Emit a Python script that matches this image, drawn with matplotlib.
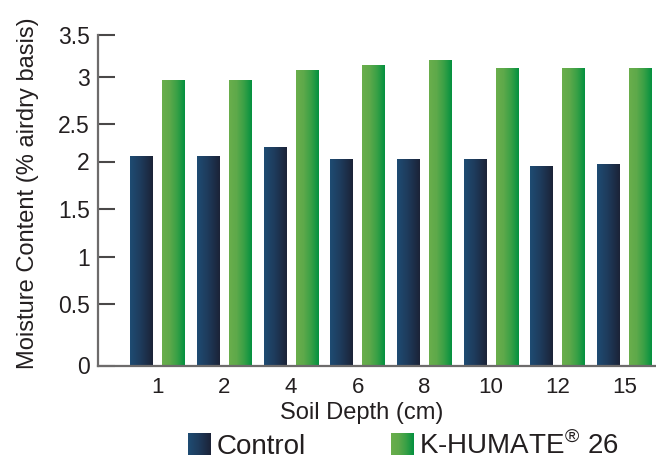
import numpy as np
import matplotlib
matplotlib.use("Agg")
import matplotlib.pyplot as plt
from matplotlib.colors import LinearSegmentedColormap
from matplotlib.patches import Rectangle
from matplotlib.image import BboxImage
from matplotlib.transforms import Bbox, TransformedBbox

# ---- data ----
depths = ["1", "2", "4", "6", "8", "10", "12", "15"]
control = [2.06, 2.06, 2.18, 2.02, 2.02, 2.02, 1.94, 1.96]
khumate = [2.95, 2.95, 3.07, 3.13, 3.19, 3.09, 3.09, 3.09]
yticks = [0, 0.5, 1, 1.5, 2, 2.5, 3, 3.5]
ytick_labels = ["0", "0.5", "1", "1.5", "2", "2.5", "3", "3.5"]
series_names = ["Control", "K-HUMATE$^{\\mathrm{\u00ae}}$ 26"]

# the printed axis is not evenly spaced; reproduce its spacing (pixel heights of each tick)
tick_heights = np.array([0, 61.5, 108.5, 156.5, 204, 241.5, 289, 330.8])
tick_vals = np.array(yticks, dtype=float)

def _pw(x, xs, ys):
    x = np.asarray(x, dtype=float)
    out = np.interp(x, xs, ys)
    lo = x < xs[0]
    hi = x > xs[-1]
    s0 = (ys[1] - ys[0]) / (xs[1] - xs[0])
    s1 = (ys[-1] - ys[-2]) / (xs[-1] - xs[-2])
    out = np.where(lo, ys[0] + (x - xs[0]) * s0, out)
    out = np.where(hi, ys[-1] + (x - xs[-1]) * s1, out)
    return out

def fwd(v):
    return _pw(v, tick_vals, tick_heights)

def inv(p):
    return _pw(p, tick_heights, tick_vals)

plt.rcParams['font.family'] = ['Liberation Sans', 'DejaVu Sans']
plt.rcParams['mathtext.fontset'] = 'custom'
plt.rcParams['mathtext.rm'] = 'Liberation Sans'
text_color = "#231f20"

cmap_ctrl = LinearSegmentedColormap.from_list("ctrl", ["#1f4c73", "#1e3a5a", "#1b2337"])
cmap_kh = LinearSegmentedColormap.from_list("kh", ["#6aae4c", "#5ea94a", "#37a046", "#03913f"])

fig = plt.figure(figsize=(6.56, 4.62), dpi=100)
ax = fig.add_axes([98.3 / 656, 96.5 / 462, (656 - 98.3) / 656, (365.5 - 34.7) / 462])
ax.set_yscale('function', functions=(fwd, inv))

x = np.arange(len(depths))
w = 0.337
off = 0.24
b1 = ax.bar(x - off, control, width=w, color="#1e3a5a", zorder=2)
b2 = ax.bar(x + off, khumate, width=w, color="#4ea648", zorder=2)

grad = np.linspace(0, 1, 256).reshape(1, -1)
for bars, cmap in ((b1, cmap_ctrl), (b2, cmap_kh)):
    for r in bars:
        r.set_facecolor("none")
        r.set_edgecolor("none")
        bx, by = r.get_x(), r.get_y()
        bw, bh = r.get_width(), r.get_height()
        bb = TransformedBbox(Bbox.from_bounds(bx, by, bw, bh), ax.transData)
        im = BboxImage(bb, cmap=cmap, interpolation='bilinear')
        im.set_data(grad)
        im.set_zorder(2)
        ax.add_artist(im)

ax.set_xlim(-0.8875, 7.474)
ax.set_ylim(0, 3.5)
ax.set_yticks(yticks)
ax.set_yticklabels(ytick_labels)
ax.set_xticks(x)
ax.set_xticklabels(depths)

for s in ("top", "right"):
    ax.spines[s].set_visible(False)
for s in ("left", "bottom"):
    ax.spines[s].set_color("#6d6b6b")
    ax.spines[s].set_linewidth(1.6)

ax.tick_params(axis='y', direction='in', length=12.2, width=1.5, color="#4a4848",
               labelsize=16.5, labelcolor=text_color, pad=6)
ax.tick_params(axis='x', length=0, labelsize=16, labelcolor=text_color, pad=8)

ax.set_ylabel("Moisture Content (% airdry basis)", fontsize=17, color=text_color)
ax.yaxis.set_label_coords(-0.106, 0.52)
ax.set_xlabel("Soil Depth (cm)", fontsize=17, color=text_color, va='top')
ax.xaxis.set_label_coords(0.473, -0.11)


class GradHandler:
    def __init__(self, cmap):
        self.cmap = cmap

    def legend_artist(self, legend, orig_handle, fontsize, handlebox):
        x0, y0 = handlebox.xdescent, handlebox.ydescent
        w_, h_ = handlebox.width, handlebox.height
        bb = TransformedBbox(Bbox.from_bounds(-x0, -y0, w_, h_), handlebox.get_transform())
        img = BboxImage(bb, cmap=self.cmap, interpolation='bilinear')
        img.set_data(grad)
        handlebox.add_artist(img)
        return img

h1 = Rectangle((0, 0), 1, 1)
h2 = Rectangle((0, 0), 1, 1)
leg = fig.legend([h1, h2], series_names, loc='lower center', bbox_to_anchor=(0.615, -0.05),
                 ncol=2, frameon=False, fontsize=20, handlelength=0.8, handleheight=0.8,
                 handletextpad=0.22, columnspacing=3.05, labelcolor=text_color,
                 handler_map={h1: GradHandler(cmap_ctrl), h2: GradHandler(cmap_kh)})

fig.savefig("out.png", dpi=100)
